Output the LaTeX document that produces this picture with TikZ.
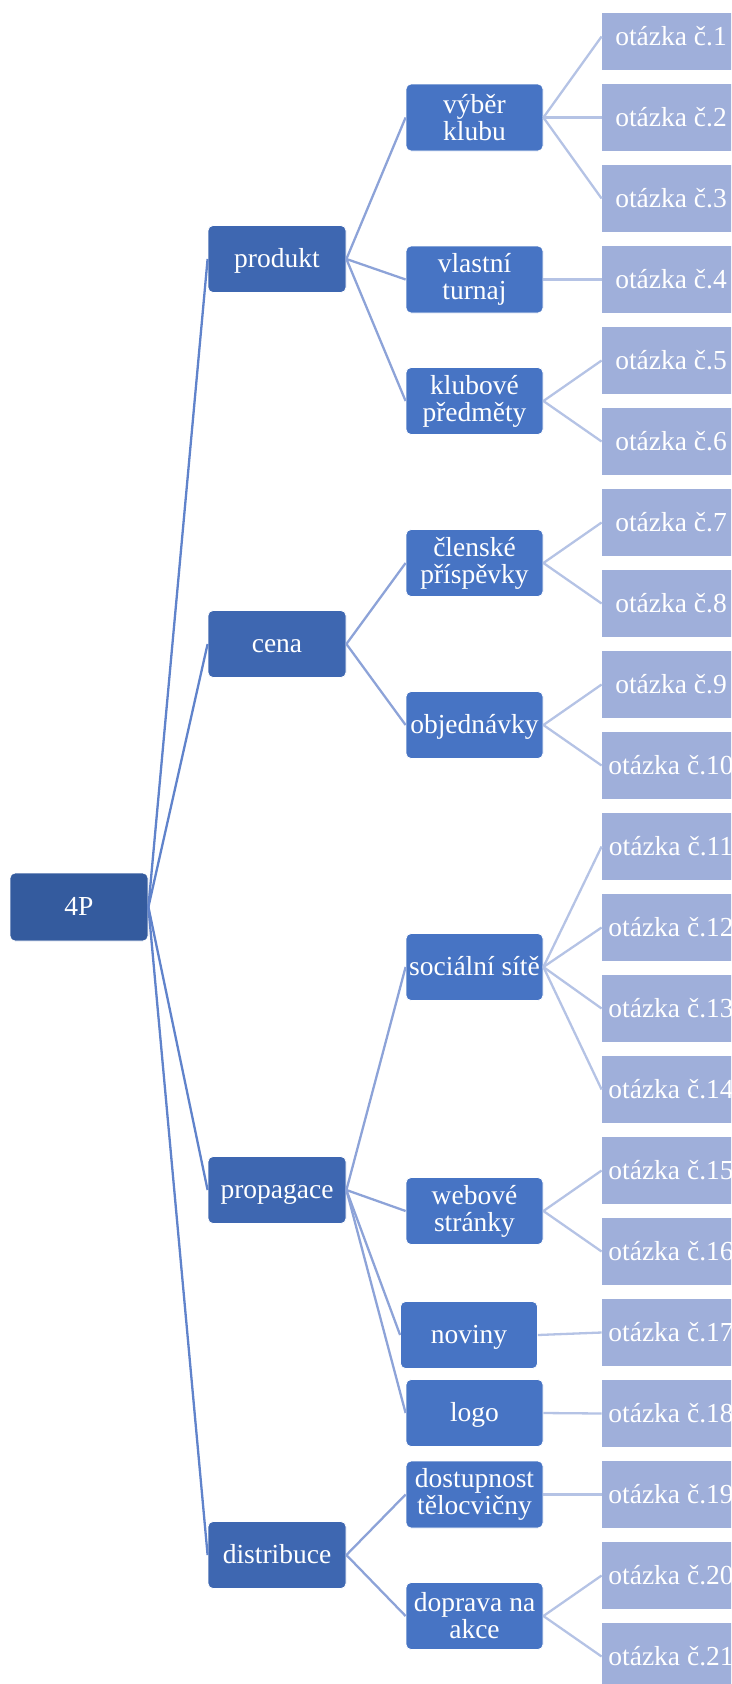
\documentclass[tikz,border=0pt]{standalone}
\usepackage{fontspec}
\setmainfont{Liberation Serif}
\definecolor{rootfill}{HTML}{345B9E}
\definecolor{catfill}{HTML}{3E67B1}
\definecolor{subfill}{HTML}{4774C4}
\definecolor{qfill}{HTML}{9FAFDA}
\definecolor{lineA}{HTML}{6083CB}
\definecolor{lineB}{HTML}{8DA3D8}
\definecolor{lineC}{HTML}{B5C3E5}
\tikzset{
  box/.style={minimum width=138pt, minimum height=67pt, inner sep=0pt,
    text=white, align=center, draw=white, line width=0.8pt,
    font=\fontsize{27.5}{27}\selectfont},
  oneline/.style={text height=19pt, text depth=2pt},
  rootbox/.style={box, oneline, fill=rootfill, rounded corners=5pt, minimum height=68pt},
  catbox/.style={box, oneline, fill=catfill, rounded corners=5pt},
  subbox/.style={box, fill=subfill, rounded corners=5pt, minimum width=137pt},
  qbox/.style={box, oneline, fill=qfill, draw=none},
  linkA/.style={draw=lineA, line width=2.3pt},
  linkB/.style={draw=lineB, line width=2.3pt},
  linkC/.style={draw=lineC, line width=2.3pt},
}
\begin{document}
\begin{tikzpicture}[x=1pt, y=-1pt]
\useasboundingbox (0,0) rectangle (731,1684);
\begin{scope}
\clip (0,13) rectangle (731,1684);

% root and the four categories
\node[rootbox] (root) at (79,907) {4P};
\node[catbox] (produkt) at (277,259) {produkt};
\node[catbox] (cena) at (277,644) {cena};
\node[catbox] (propagace) at (277,1190) {propagace};
\node[catbox] (distribuce) at (277,1555) {distribuce};

% second level
\node[subbox] (vyber) at (474.5,117.5) {výběr\\klubu};
\node[subbox] (turnaj) at (474.5,279.5) {vlastní\\turnaj};
\node[subbox] (predmety) at (474.5,401) {klubové\\předměty};
\node[subbox] (prispevky) at (474.5,563) {členské\\příspěvky};
\node[subbox, oneline] (objednavky) at (474.5,725) {objednávky};
\node[subbox, oneline] (site) at (474.5,967) {sociální sítě};
\node[subbox] (web) at (474.5,1211) {webové\\stránky};
\node[subbox, oneline] (noviny) at (469,1335) {noviny};
\node[subbox, oneline] (logo) at (474.5,1413) {logo};
\node[subbox] (telocvicna) at (474.5,1494.5) {dostupnost\\tělocvičny};
\node[subbox] (doprava) at (474.5,1616) {doprava na\\akce};

% questions
\foreach \k in {1,...,21}
  \node[qbox] (q\k) at (671,{36.5+(\k-1)*81}) {otázka č.\k};

% connectors
\foreach \c in {produkt,cena,propagace,distribuce}
  \draw[linkA] (root.east) -- (\c.west);
\foreach \c in {vyber,turnaj,predmety}
  \draw[linkB] (produkt.east) -- (\c.west);
\foreach \c in {prispevky,objednavky}
  \draw[linkB] (cena.east) -- (\c.west);
\foreach \c in {site,web,noviny,logo}
  \draw[linkB] (propagace.east) -- (\c.west);
\foreach \c in {telocvicna,doprava}
  \draw[linkB] (distribuce.east) -- (\c.west);

\foreach \p/\q in {vyber/1,vyber/2,vyber/3,turnaj/4,predmety/5,predmety/6,
  prispevky/7,prispevky/8,objednavky/9,objednavky/10,site/11,site/12,site/13,
  site/14,web/15,web/16,noviny/17,logo/18,telocvicna/19,doprava/20,doprava/21}
  \draw[linkC] (\p.east) -- (q\q.west);
\end{scope}
\end{tikzpicture}
\end{document}
